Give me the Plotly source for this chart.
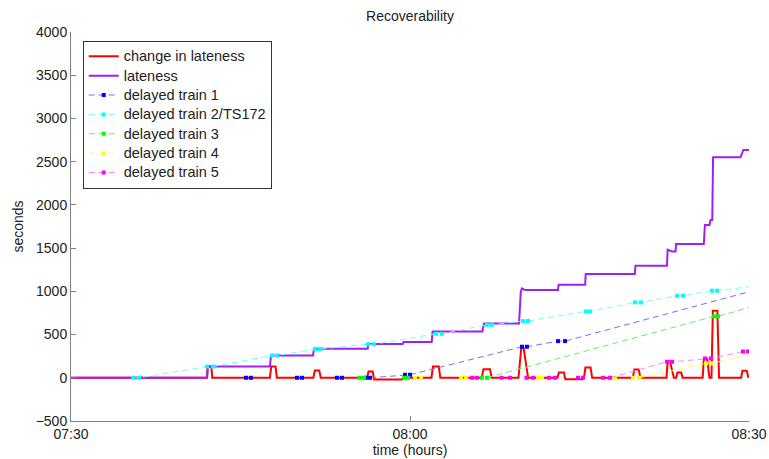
import pandas as pd
import plotly.graph_objects as go

BASE = pd.Timestamp("2000-01-01 07:30:00")

# ---- data (time = minutes after 07:30, values in seconds) ----
change_t = [0, 12.04, 12.1, 12.42, 12.5, 17.6, 17.72, 18.1, 18.22, 21.45, 21.58, 21.97, 22.1,
            26.2, 26.33, 26.7, 26.82, 29.3, 29.4, 31.9, 32.03, 32.55, 32.68, 36.35, 36.5, 37.08, 37.22,
            39.6, 39.85, 40.05, 40.45, 43.05, 43.18, 43.62, 43.75, 45.25, 45.4, 45.52, 45.98, 46.12,
            49.72, 49.85, 50.25, 50.38, 52.7, 52.8, 53.0, 53.35, 53.55, 53.67, 54.0, 54.12,
            55.9, 56.0, 56.3, 56.5, 56.68, 56.8, 57.2, 57.35, 59.3, 59.42, 59.8, 59.95]
change_v = [0, 0, 130, 130, 0, 0, 130, 130, 0, 0, 85, 85, 0,
            0, 73, 73, -20, -20, 0, 0, 130, 130, 0, 0, 100, 100, 0,
            0, 350, 350, 0, 0, 62, 62, -16, -16, 0, 120, 120, 0,
            0, 95, 95, 0, 0, 190, 190, 0, 0, 62, 62, 0,
            0, 216, 216, 0, 0, 775, 775, 0, 0, 81, 81, 0]

late_t = [0, 12.04, 12.1, 17.6, 17.7, 21.42, 21.5, 26.25, 26.33, 29.35, 29.42, 31.92, 32.0,
          36.4, 36.55, 39.65, 39.8, 39.9, 40.2, 43.1, 43.15, 45.5, 45.55, 49.9, 49.95,
          52.74, 52.8, 53.2, 53.5, 53.55, 56.0, 56.1, 56.5, 56.6, 56.75, 56.82, 59.25, 59.5, 60]
late_v = [0, 0, 130, 130, 258, 258, 335, 335, 390, 390, 415, 415, 535,
          535, 628, 628, 990, 1033, 1015, 1015, 1076, 1076, 1200, 1200, 1296,
          1296, 1481, 1462, 1462, 1547, 1547, 1767, 1767, 1825, 1825, 2550, 2550, 2635, 2635]

t1_mt = [15.49, 15.93, 20.0, 20.44, 23.54, 23.98, 26.1, 26.46, 29.56, 30.0, 39.91, 40.35, 43.1, 43.72]
t1_mv = [0, 0, 0, 0, 0, 0, 0, 0, 35, 35, 359, 359, 424, 424]
t1_lt = [26.46, 29.56, 30.0, 39.91, 40.35, 43.1, 43.72, 60]
t1_lv = [0, 35, 35, 359, 359, 424, 424, 995]

t2_mt = [5.49, 6.02, 12.04, 12.57, 17.79, 18.23, 21.59, 22.04, 26.28, 26.81, 32.3, 32.83,
         36.8, 37.23, 40.0, 40.44, 45.58, 45.93, 49.91, 50.44, 53.63, 54.16, 56.73, 57.17]
t2_mv = [0, 0, 130, 130, 258, 258, 332, 332, 388, 388, 509, 509,
         613, 613, 656, 656, 767, 767, 872, 872, 949, 949, 1007, 1007]
t2_lt = t2_mt + [60]
t2_lv = t2_mv + [1053]

t3_mt = [25.49, 25.93, 29.5, 29.82, 36.37, 36.81, 56.9, 57.26]
t3_mv = [0, 0, 0, 0, 0, 0, 710, 710]
t3_lt = [36.81, 56.9, 57.26, 60]
t3_lv = [0, 710, 710, 814]

t4_mt = [30.44, 30.97, 34.51, 34.96, 41.33, 41.68, 47.79, 48.14, 49.73, 50.27, 56.2, 56.64]
t4_mv = [0, 0, 0, 0, 0, 0, 0, 0, 0, 0, 166, 166]
t4_lt = [50.27, 56.2, 56.64, 60]
t4_lv = [0, 166, 166, 265]

t5_mt = [35.49, 35.93, 38.1, 38.85, 40.3, 40.9, 42.3, 42.83, 44.87, 45.31, 47.08, 47.7,
         52.74, 53.19, 56.11, 56.64, 59.47, 59.91]
t5_mv = [0, 0, 0, 0, 0, 0, 0, 0, 0, 0, 0, 0, 185, 185, 224, 224, 304, 304]
t5_lt = [47.7, 52.74, 53.19, 56.11, 56.64, 59.47, 59.91]
t5_lv = [0, 185, 185, 224, 224, 304, 304]

trains = [
    ("delayed train 1", t1_lt, t1_lv, t1_mt, t1_mv, "#7070ff", "#0000ff"),
    ("delayed train 2/TS172", t2_lt, t2_lv, t2_mt, t2_mv, "#70ffff", "#00ffff"),
    ("delayed train 3", t3_lt, t3_lv, t3_mt, t3_mv, "#60f060", "#00ff00"),
    ("delayed train 4", t4_lt, t4_lv, t4_mt, t4_mv, "#ffff60", "#ffff00"),
    ("delayed train 5", t5_lt, t5_lv, t5_mt, t5_mv, "#ff80ff", "#ff00ff"),
]


def tt(mins):
    return [BASE + pd.Timedelta(minutes=m) for m in mins]


def lg(text):
    return '<span style="font-size:14.5px">' + text + '</span>'


FONT = "Liberation Sans, Arial, sans-serif"
fig = go.Figure()
fig.add_trace(go.Scatter(x=tt(change_t), y=change_v, mode="lines", name=lg("change in lateness"),
                         line=dict(color="#ff0000", width=2)))
fig.add_trace(go.Scatter(x=tt(late_t), y=late_v, mode="lines", name=lg("lateness"),
                         line=dict(color="#a020f0", width=2)))
for name, lt, lv, mt, mv, lc, mc in trains:
    fig.add_trace(go.Scatter(x=tt(lt), y=lv, mode="lines", showlegend=False,
                             line=dict(color=lc, width=1, dash="6px,4px")))
    fig.add_trace(go.Scatter(x=tt(mt), y=mv, mode="markers", showlegend=False,
                             marker=dict(color=mc, size=4, symbol="square")))
    fig.add_trace(go.Scatter(x=[None], y=[None], mode="lines+markers", name=lg(name),
                             line=dict(color=lc, width=1, dash="6px,4px"),
                             marker=dict(color=mc, size=4, symbol="square")))

axis_common = dict(showline=True, linecolor="#808080", linewidth=1, ticks="inside",
                   ticklen=5, tickcolor="#808080", showgrid=False, zeroline=False,
                   automargin=False,
                   tickfont=dict(family=FONT, size=14, color="#222"))
fig.update_layout(
    width=769, height=459,
    margin=dict(l=71, r=20, t=32, b=38),
    paper_bgcolor="white", plot_bgcolor="white",
    font=dict(family=FONT, size=14, color="#222"),
    title=dict(text="Recoverability", x=0.5, xref="paper", y=1 - 16 / 459, yref="container",
               yanchor="middle", font=dict(size=14, color="#222")),
    xaxis=dict(range=[BASE, BASE + pd.Timedelta(minutes=60)], tickformat="%H:%M",
               dtick=30 * 60 * 1000, tick0=BASE,
               title=dict(text="time (hours)", standoff=0, font=dict(size=14)), **axis_common),
    yaxis=dict(range=[-500, 4000], dtick=500,
               title=dict(text="seconds", standoff=8, font=dict(size=14)), **axis_common),
    legend=dict(x=0.0173, y=0.978, xanchor="left", yanchor="top", bgcolor="white",
                bordercolor="#333", borderwidth=1, font=dict(size=12.6), tracegroupgap=0),
    showlegend=True,
)
fig.write_html("out.html")
